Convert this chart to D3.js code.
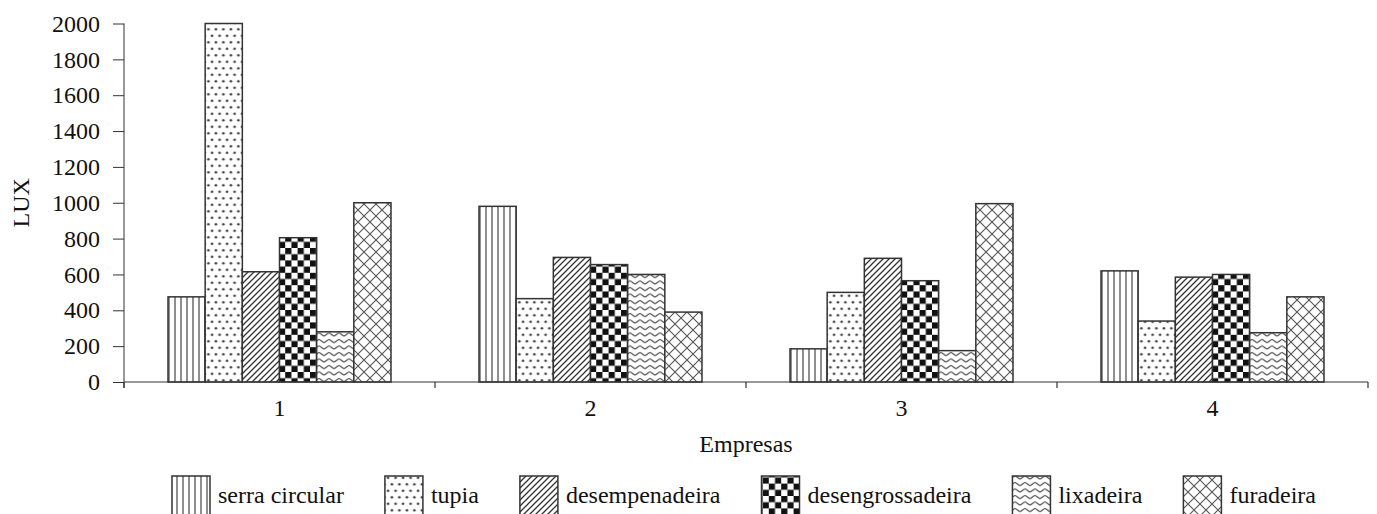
<!DOCTYPE html>
<html>
<head>
<meta charset="utf-8">
<script src="https://cdn.jsdelivr.net/npm/d3@7"></script>
</head>
<body style="margin:0;background:#fff">
<svg id="chart" width="1377" height="514"></svg>
<script>
// ---- data ----
const categories = ["1", "2", "3", "4"];
const seriesNames = ["serra circular", "tupia", "desempenadeira", "desengrossadeira", "lixadeira", "furadeira"];
const serraCircular    = [475, 980, 185, 620];
const tupia            = [2000, 465, 500, 340];
const desempenadeira   = [615, 695, 690, 585];
const desengrossadeira = [805, 655, 565, 600];
const lixadeira        = [280, 600, 175, 275];
const furadeira        = [1000, 390, 995, 475];
const yTicks = [0, 200, 400, 600, 800, 1000, 1200, 1400, 1600, 1800, 2000];
const yLabel = "LUX";
const xLabel = "Empresas";

const seriesValues = [serraCircular, tupia, desempenadeira, desengrossadeira, lixadeira, furadeira];
const patternIds = ["p-vert", "p-dots", "p-diag", "p-check", "p-wave", "p-cross"];

// ---- layout ----
const svg = d3.select("#chart");
const mLeft = 124, mRight = 1368, mTop = 23.5, mBottom = 382;

const x0 = d3.scaleBand().domain(categories).range([mLeft, mRight]).padding(0);
const x1 = d3.scaleBand().domain(seriesNames)
  .range([x0.bandwidth() * 0.1415, x0.bandwidth() * 0.8585]).padding(0);
const y = d3.scaleLinear().domain([0, 2000]).range([mBottom, mTop]);

function styleText(sel) {
  return sel.attr("font-family", null)
    .style("font-family", "Liberation Serif")
    .style("font-size", "24px")
    .style("fill", "#111");
}

// ---- patterns ----
const defs = svg.append("defs");
const stroke = "#333";

let p = defs.append("pattern").attr("id", "p-vert").attr("patternUnits", "userSpaceOnUse")
  .attr("width", 6).attr("height", 6);
p.append("rect").attr("width", 6).attr("height", 6).attr("fill", "#fff");
p.append("line").attr("x1", 3).attr("x2", 3).attr("y1", 0).attr("y2", 6)
  .attr("stroke", "#333").attr("stroke-width", 1.1);

p = defs.append("pattern").attr("id", "p-dots").attr("patternUnits", "userSpaceOnUse")
  .attr("width", 7.5).attr("height", 13);
p.append("rect").attr("width", 7.5).attr("height", 13).attr("fill", "#fff");
[[1.9, 3.2], [5.6, 9.7]].forEach(([cx, cy]) => {
  p.append("circle").attr("cx", cx).attr("cy", cy).attr("r", 1.5).attr("fill", "#888");
  p.append("circle").attr("cx", cx).attr("cy", cy).attr("r", 0.8).attr("fill", "#222");
});

p = defs.append("pattern").attr("id", "p-diag").attr("patternUnits", "userSpaceOnUse")
  .attr("width", 6).attr("height", 6);
p.append("rect").attr("width", 6).attr("height", 6).attr("fill", "#fff");
p.append("path").attr("d", "M-1,7 L7,-1 M-1,1 L1,-1 M5,7 L7,5")
  .attr("stroke", "#333").attr("stroke-width", 1.3);

p = defs.append("pattern").attr("id", "p-check").attr("patternUnits", "userSpaceOnUse")
  .attr("width", 12.4).attr("height", 12.4);
p.append("rect").attr("width", 12.4).attr("height", 12.4).attr("fill", "#fff");
p.append("rect").attr("x", 0).attr("y", 0).attr("width", 6.2).attr("height", 6.2).attr("fill", "#111");
p.append("rect").attr("x", 6.2).attr("y", 6.2).attr("width", 6.2).attr("height", 6.2).attr("fill", "#111");

p = defs.append("pattern").attr("id", "p-wave").attr("patternUnits", "userSpaceOnUse")
  .attr("width", 10).attr("height", 6.5);
p.append("rect").attr("width", 10).attr("height", 6.5).attr("fill", "#fff");
p.append("path").attr("d", "M0,4.5 C1.5,4.5 3.5,1.5 5,1.5 C6.5,1.5 8.5,4.5 10,4.5")
  .attr("fill", "none").attr("stroke", "#444").attr("stroke-width", 1.1);

p = defs.append("pattern").attr("id", "p-cross").attr("patternUnits", "userSpaceOnUse")
  .attr("width", 12).attr("height", 12);
p.append("rect").attr("width", 12).attr("height", 12).attr("fill", "#fff");
p.append("path").attr("d", "M0,0 L12,12 M12,0 L0,12")
  .attr("stroke", "#555").attr("stroke-width", 1.1);

// ---- bars ----
const groups = svg.append("g").selectAll("g").data(categories).join("g")
  .attr("transform", d => `translate(${x0(d)},0)`);

groups.selectAll("rect")
  .data((c, ci) => seriesNames.map((s, si) => ({ s, si, v: seriesValues[si][ci] })))
  .join("rect")
  .attr("x", d => x1(d.s))
  .attr("y", d => y(d.v))
  .attr("width", x1.bandwidth())
  .attr("height", d => y(0) - y(d.v))
  .attr("fill", d => `url(#${patternIds[d.si]})`)
  .attr("stroke", stroke)
  .attr("stroke-width", 1.5);

// ---- axes ----
const yAxis = d3.axisLeft(y).tickValues(yTicks).tickSize(11).tickPadding(13).tickFormat(d3.format("d"));
const gy = svg.append("g").attr("transform", `translate(${mLeft},0)`).call(yAxis);
gy.attr("font-family", null).attr("font-size", null);
gy.select(".domain").attr("stroke", "#333").attr("d", `M0,${mTop}V${mBottom + 6}`);
gy.selectAll(".tick line").attr("stroke", "#333");
styleText(gy.selectAll("text"));

const gx = svg.append("g");
gx.append("line").attr("x1", mLeft).attr("x2", mRight).attr("y1", mBottom).attr("y2", mBottom)
  .attr("stroke", "#333").attr("stroke-width", 1.2);
const bounds = categories.map(c => x0(c)).concat([x0(categories[categories.length - 1]) + x0.bandwidth()]);
gx.selectAll("line.bt").data(bounds).join("line").attr("class", "bt")
  .attr("x1", d => d).attr("x2", d => d).attr("y1", mBottom).attr("y2", mBottom + 6)
  .attr("stroke", "#333").attr("stroke-width", 1.2);
styleText(gx.selectAll("text").data(categories).join("text")
  .attr("x", d => x0(d) + x0.bandwidth() / 2)
  .attr("y", 416)
  .attr("text-anchor", "middle")
  .text(d => d));

// axis titles
styleText(svg.append("text")
  .attr("transform", `translate(29,${(mTop + mBottom) / 2}) rotate(-90)`)
  .attr("text-anchor", "middle")
  .text(yLabel));
styleText(svg.append("text")
  .attr("x", (mLeft + mRight) / 2)
  .attr("y", 452)
  .attr("text-anchor", "middle")
  .text(xLabel));

// ---- legend ----
const legend = svg.append("g");
let lx = 172;
seriesNames.forEach((name, i) => {
  const g = legend.append("g");
  g.append("rect").attr("x", lx).attr("y", 476).attr("width", 38).attr("height", 40)
    .attr("fill", `url(#${patternIds[i]})`).attr("stroke", stroke).attr("stroke-width", 1.5);
  const t = styleText(g.append("text").attr("x", lx + 46).attr("y", 503).text(name));
  const w = t.node().getComputedTextLength();
  lx = lx + 46 + w + 41;
});
</script>
</body>
</html>
